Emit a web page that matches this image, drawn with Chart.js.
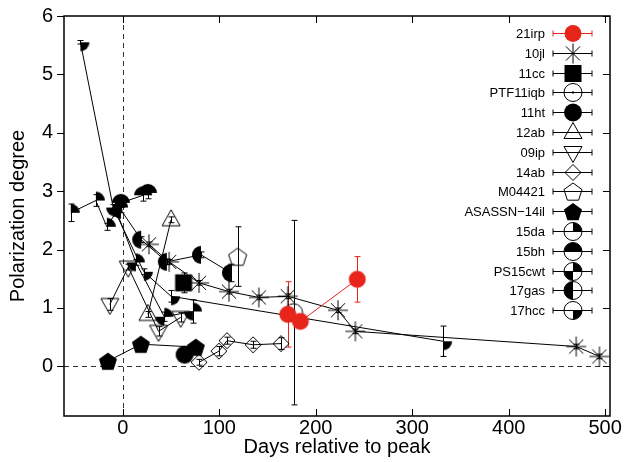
<!DOCTYPE html>
<html>
<head>
<meta charset="utf-8">
<script src="https://cdn.jsdelivr.net/npm/chart.js@4.4.1/dist/chart.umd.min.js"></script>
<style>
  html, body { margin: 0; padding: 0; background: #fff; }
  #wrap { width: 633px; height: 462px; }
</style>
</head>
<body>
<div id="wrap"><canvas id="chart"></canvas></div>
<script>
// ---- data (days relative to peak, polarization %, error) ----
const xTicks = [0, 100, 200, 300, 400, 500];
const yTicks = [0, 1, 2, 3, 4, 5, 6];

const irpDays = [171, 184, 243];
const irpPol  = [0.89, 0.77, 1.49];
const irpErr  = [0.56, 0.03, 0.39];

const jlDays = [27, 48, 79, 110, 141, 171, 223, 241, 470, 494];
const jlPol  = [2.09, 1.79, 1.43, 1.28, 1.18, 1.20, 0.96, 0.60, 0.34, 0.17];
const jlErr  = [0.04, 0.04, 0.04, 0.04, 0.04, 0.04, 0.04, 0.04, 0.04, 0.04];

const ccDays = [63];
const ccPol  = [1.43];
const ccErr  = [0.17];

const iqbDays = [177];
const iqbPol  = [0.92];
const iqbErr  = [1.58];

const htDays = [64];
const htPol  = [0.20];
const htErr  = [0.03];

const ab12Days = [26, 50];
const ab12Pol  = [0.89, 2.51];
const ab12Err  = [0.05, 0.05];

const ip09Days = [-13.5, 5.6, 37, 60];
const ip09Pol  = [1.06, 1.70, 0.60, 0.84];
const ip09Err  = [0.10, 0.05, 0.08, 0.08];

const ab14Days = [79, 99.5, 108, 135, 164];
const ab14Pol  = [0.07, 0.26, 0.44, 0.37, 0.39];
const ab14Err  = [0.05, 0.08, 0.06, 0.06, 0.10];

const m04Days = [119];
const m04Pol  = [1.88];
const m04Err  = [0.51];

const il14Days = [-15.5, 18.7, 75.7];
const il14Pol  = [0.09, 0.38, 0.33];
const il14Err  = [0.03, 0.03, 0.03];

const da15Days = [-54, -28, -16.6, -4];
const da15Pol  = [2.63, 2.84, 2.39, 2.72];
const da15Err  = [0.15, 0.10, 0.06, 0.05];

const bh15Days = [-2, 21, 26];
const bh15Pol  = [2.80, 2.93, 2.97];
const bh15Err  = [0.08, 0.10, 0.10];

const cwtDays = [-8, 13.5, 43, 72.6];
const cwtPol  = [2.72, 1.78, 0.85, 0.94];
const cwtErr  = [0.05, 0.05, 0.08, 0.20];

const gasDays = [-2, 19, 45.6, 81, 112];
const gasPol  = [2.68, 2.17, 1.79, 1.91, 1.60];
const gasErr  = [0.05, 0.05, 0.05, 0.05, 0.15];

const hccDays = [-44, -10, 21.8, 50, 332];
const hccPol  = [5.55, 2.72, 1.62, 1.20, 0.43];
const hccErr  = [0.03, 0.05, 0.05, 0.10, 0.26];

const RED = '#e8251b';
const FONT = '"Liberation Sans", Arial, Helvetica, sans-serif';

const series = [
  { label: '21irp',        days: irpDays,  pol: irpPol,  err: irpErr,  marker: 'redDisc',  color: RED },
  { label: '10jl',         days: jlDays,   pol: jlPol,   err: jlErr,   marker: 'star',     color: '#000' },
  { label: '11cc',         days: ccDays,   pol: ccPol,   err: ccErr,   marker: 'square',   color: '#000' },
  { label: 'PTF11iqb',     days: iqbDays,  pol: iqbPol,  err: iqbErr,  marker: 'ringDot',  color: '#000' },
  { label: '11ht',         days: htDays,   pol: htPol,   err: htErr,   marker: 'disc',     color: '#000' },
  { label: '12ab',         days: ab12Days, pol: ab12Pol, err: ab12Err, marker: 'triUp',    color: '#000' },
  { label: '09ip',         days: ip09Days, pol: ip09Pol, err: ip09Err, marker: 'triDown',  color: '#000' },
  { label: '14ab',         days: ab14Days, pol: ab14Pol, err: ab14Err, marker: 'diamond',  color: '#000' },
  { label: 'M04421',       days: m04Days,  pol: m04Pol,  err: m04Err,  marker: 'pentOpen', color: '#000' },
  { label: 'ASASSN\u221214il', days: il14Days, pol: il14Pol, err: il14Err, marker: 'pentFill', color: '#000' },
  { label: '15da',         days: da15Days, pol: da15Pol, err: da15Err, marker: 'qTR',      color: '#000' },
  { label: '15bh',         days: bh15Days, pol: bh15Pol, err: bh15Err, marker: 'qTop',     color: '#000' },
  { label: 'PS15cwt',      days: cwtDays,  pol: cwtPol,  err: cwtErr,  marker: 'qTRBL',    color: '#000' },
  { label: '17gas',        days: gasDays,  pol: gasPol,  err: gasErr,  marker: 'qLeft',    color: '#000' },
  { label: '17hcc',        days: hccDays,  pol: hccPol,  err: hccErr,  marker: 'qBR',      color: '#000' },
];

const PI = Math.PI;
const QUARTERS = {
  qTR:   [[-PI / 2, 0]],
  qTop:  [[PI, 2 * PI]],
  qTRBL: [[-PI / 2, 0], [PI / 2, PI]],
  qLeft: [[PI / 2, 3 * PI / 2]],
  qBR:   [[0, PI / 2]],
};

function drawMarker(ctx, type, cx, cy, inLegend) {
  ctx.save();
  ctx.translate(cx, cy);
  ctx.lineWidth = 1;
  ctx.strokeStyle = '#000';
  ctx.fillStyle = '#000';
  const poly = pts => {
    ctx.beginPath();
    pts.forEach(([px, py], i) => (i ? ctx.lineTo(px, py) : ctx.moveTo(px, py)));
    ctx.closePath();
  };
  const pent = r => poly([0, 1, 2, 3, 4].map(k => {
    const a = -PI / 2 + k * 2 * PI / 5;
    return [r * Math.cos(a), r * Math.sin(a) + 1];
  }));
  switch (type) {
    case 'redDisc':
      ctx.fillStyle = RED;
      ctx.beginPath(); ctx.arc(0, 0, 8.5, 0, 2 * PI); ctx.fill();
      break;
    case 'disc':
      ctx.beginPath(); ctx.arc(0, 0, 9, 0, 2 * PI); ctx.fill();
      break;
    case 'star':
      ctx.beginPath();
      for (let k = 0; k < 4; k++) {
        const a = k * PI / 4, r = 10;
        ctx.moveTo(-r * Math.cos(a), -r * Math.sin(a));
        ctx.lineTo(r * Math.cos(a), r * Math.sin(a));
      }
      ctx.stroke();
      break;
    case 'square':
      ctx.fillRect(-8.5, -8.5, 17, 17);
      break;
    case 'ringDot':
      ctx.beginPath(); ctx.arc(0, 0, 9, 0, 2 * PI); ctx.stroke();
      ctx.fillRect(-1, -1, 2, 2);
      break;
    case 'triUp':
      poly([[0, -10], [9, 6], [-9, 6]]); ctx.stroke();
      break;
    case 'triDown':
      poly([[0, 10], [9, -6], [-9, -6]]); ctx.stroke();
      break;
    case 'diamond':
      poly([[0, -8], [8, 0], [0, 8], [-8, 0]]); ctx.stroke();
      break;
    case 'pentOpen':
      pent(9.5); ctx.stroke();
      break;
    case 'pentFill':
      pent(9.5); ctx.fill();
      break;
    default:
      (QUARTERS[type] || []).forEach(([a0, a1]) => {
        ctx.beginPath(); ctx.moveTo(0, 0); ctx.arc(0, 0, 9, a0, a1); ctx.closePath(); ctx.fill();
      });
      if (inLegend) {
        ctx.beginPath(); ctx.arc(0, 0, 9, 0, 2 * PI); ctx.stroke();
      }
  }
  ctx.restore();
}

function markerCanvas(type) {
  const c = document.createElement('canvas');
  c.width = 24; c.height = 24;
  drawMarker(c.getContext('2d'), type, 12, 12, false);
  return c;
}

// dashed zero lines, error bars, frame with ticks and the right-hand key
const decor = {
  id: 'decor',
  beforeDatasetsDraw(chart) {
    const { ctx, chartArea: a, scales: { x, y } } = chart;
    ctx.save();
    ctx.strokeStyle = '#333';
    ctx.lineWidth = 1;
    ctx.setLineDash([5, 4]);
    const x0 = Math.round(x.getPixelForValue(0)) + 0.5;
    const y0 = Math.round(y.getPixelForValue(0)) + 0.5;
    ctx.beginPath();
    ctx.moveTo(x0, a.top); ctx.lineTo(x0, a.bottom);
    ctx.moveTo(a.left, y0); ctx.lineTo(a.right, y0);
    ctx.stroke();
    ctx.setLineDash([]);

    ctx.beginPath();
    ctx.rect(a.left, a.top, a.right - a.left, a.bottom - a.top);
    ctx.clip();
    series.forEach(s => {
      ctx.strokeStyle = s.color;
      s.days.forEach((d, i) => {
        const e = s.err[i];
        if (!e) return;
        const px = Math.round(x.getPixelForValue(d)) + 0.5;
        const hi = y.getPixelForValue(s.pol[i] + e);
        const lo = y.getPixelForValue(s.pol[i] - e);
        ctx.beginPath();
        ctx.moveTo(px, hi); ctx.lineTo(px, lo);
        ctx.moveTo(px - 3, hi); ctx.lineTo(px + 3, hi);
        ctx.moveTo(px - 3, lo); ctx.lineTo(px + 3, lo);
        ctx.stroke();
      });
    });
    ctx.restore();
  },
  afterDraw(chart) {
    const { ctx, chartArea: a, scales: { x, y } } = chart;
    ctx.save();
    ctx.strokeStyle = '#000';
    ctx.lineWidth = 1;
    ctx.beginPath();
    xTicks.forEach(v => {
      const px = Math.round(x.getPixelForValue(v)) + 0.5;
      ctx.moveTo(px, a.bottom); ctx.lineTo(px, a.bottom - 7);
      ctx.moveTo(px, a.top); ctx.lineTo(px, a.top + 7);
    });
    yTicks.forEach(v => {
      const py = Math.round(y.getPixelForValue(v)) + 0.5;
      ctx.moveTo(a.left - 7, py); ctx.lineTo(a.left, py);
      ctx.moveTo(a.right, py); ctx.lineTo(a.right - 7, py);
    });
    ctx.stroke();
    ctx.lineWidth = 1.5;
    ctx.strokeRect(a.left, a.top, a.right - a.left, a.bottom - a.top);

    // key
    ctx.font = '13px ' + FONT;
    ctx.textAlign = 'right';
    ctx.textBaseline = 'middle';
    ctx.lineWidth = 1;
    series.forEach((s, i) => {
      const ly = Math.round(a.top + 17 + i * 19.8) + 0.5;
      ctx.fillStyle = '#000';
      ctx.fillText(s.label, a.right - 65, ly + 1);
      ctx.strokeStyle = s.color;
      const b0 = a.right - 57, b1 = a.right - 18;
      ctx.beginPath();
      ctx.moveTo(b0, ly); ctx.lineTo(b1, ly);
      ctx.moveTo(b0, ly - 3); ctx.lineTo(b0, ly + 3);
      ctx.moveTo(b1, ly - 3); ctx.lineTo(b1, ly + 3);
      ctx.stroke();
      drawMarker(ctx, s.marker, a.right - 37, ly, true);
    });
    ctx.restore();
  }
};

const datasets = series.map(s => ({
  label: s.label,
  data: s.days.map((d, i) => ({ x: d, y: s.pol[i] })),
  showLine: true,
  borderColor: s.color,
  borderWidth: 1,
  pointStyle: markerCanvas(s.marker),
  pointRadius: 6,
  pointHoverRadius: 6,
}));

new Chart(document.getElementById('chart'), {
  type: 'scatter',
  data: { datasets },
  options: {
    responsive: true,
    maintainAspectRatio: false,
    animation: false,
    layout: { padding: { top: 16, right: 23, left: 0, bottom: 0 } },
    plugins: { legend: { display: false }, tooltip: { enabled: false } },
    scales: {
      x: {
        type: 'linear',
        min: -61,
        max: 505,
        afterBuildTicks: s => { s.ticks = xTicks.map(v => ({ value: v })); },
        afterFit: s => { s.height = 46; s.paddingLeft = 0; s.paddingRight = 0; },
        grid: { display: false, drawTicks: false },
        border: { display: false },
        ticks: { color: '#000', font: { size: 20, family: FONT }, padding: 0, maxRotation: 0 },
        title: {
          display: true, text: 'Days relative to peak', color: '#000',
          font: { size: 20, family: FONT }, padding: { top: 0, bottom: 3 }
        }
      },
      y: {
        type: 'linear',
        min: -0.85,
        max: 6,
        afterBuildTicks: s => { s.ticks = yTicks.map(v => ({ value: v })); },
        afterFit: s => { s.width = 64; s.paddingTop = 0; s.paddingBottom = 0; },
        grid: { display: false, drawTicks: false },
        border: { display: false },
        ticks: { color: '#000', font: { size: 20, family: FONT }, padding: 11 },
        title: {
          display: true, text: 'Polarization degree', color: '#000',
          font: { size: 20, family: FONT }, padding: { top: 6, bottom: 0 }
        }
      }
    }
  },
  plugins: [decor]
});
</script>
</body>
</html>
